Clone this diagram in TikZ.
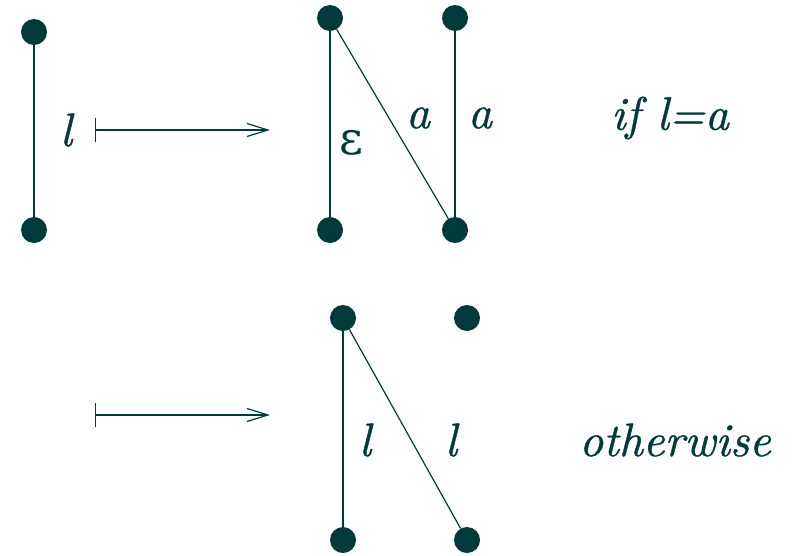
\documentclass[tikz,border=0pt]{standalone}
\usepackage{fontspec}
\newfontfamily\epsfont{DejaVu Serif}
\newfontfamily\labfont{lmroman10-italic.otf}[FakeBold=0.8]
\usetikzlibrary{arrows.meta}
\definecolor{ink}{HTML}{003A3A}
\begin{document}
\begin{tikzpicture}[x=1pt,y=-1pt,
  dot/.style={circle,fill=ink,draw=none,minimum size=26pt,inner sep=0pt},
  edge/.style={draw=ink,line width=1.2pt},
  lab/.style={text=ink,font=\labfont\fontsize{47}{52}\selectfont,inner sep=0pt},
  maps/.style={draw=ink,line width=1.2pt,{Bar[width=24pt,line width=1.2pt]}-{Straight Barb[length=21pt,width=13pt,line width=1.2pt]}}]
\useasboundingbox (0,0) rectangle (795,555);
% left edge
\node[dot] (l1) at (34,32) {};
\node[dot] (l2) at (34,230) {};
\draw[edge] (l1) -- (l2);
\node[lab] (ll) at (66,130) {l};
% arrows
\coordinate (a1s) at (95,130);
\coordinate (a1e) at (270,130);
\draw[maps] (a1s) -- (a1e);
\coordinate (a2s) at (95,415);
\coordinate (a2e) at (270,415);
\draw[maps] (a2s) -- (a2e);
% top result
\node[dot] (t1) at (330,18) {};
\node[dot] (t2) at (330,230) {};
\node[dot] (t3) at (455,18) {};
\node[dot] (t4) at (455,230) {};
\draw[edge] (t1) -- (t2);
\draw[edge] (t1) -- (t4);
\draw[edge] (t3) -- (t4);
\node[lab,font=\epsfont\fontsize{46}{50}\selectfont] (eps) at (351,143) {ε};
\node[lab] (ta) at (418,118) {a};
\node[lab] (tb) at (480,118) {a};
\node[lab] (cond1) at (670,118) {if l=a};
% bottom result
\node[dot] (b1) at (343,318) {};
\node[dot] (b2) at (467,318) {};
\node[dot] (b3) at (343,540) {};
\node[dot] (b4) at (467,540) {};
\draw[edge] (b1) -- (b3);
\draw[edge] (b1) -- (b4);
\node[lab] (bl1) at (365,440) {l};
\node[lab] (bl2) at (451,440) {l};
\node[lab] (cond2) at (675,440) {otherwise};
\end{tikzpicture}
\end{document}
